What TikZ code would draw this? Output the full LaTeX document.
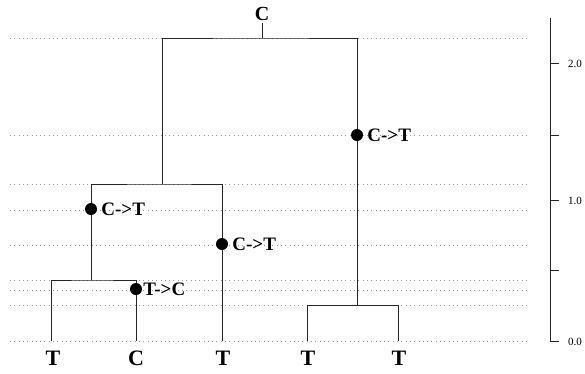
\documentclass[tikz,border=0pt]{standalone}
\usepackage{fontspec}
\setmainfont{Liberation Serif}
\usetikzlibrary{positioning}
\begin{document}
\begin{tikzpicture}[x=1pt, y=-1pt,
    branch/.style={line width=0.9pt, black!85},
    grid/.style={gray!80, line width=0.7pt, dash pattern=on 0.7pt off 3.6pt},
    leaflab/.style={anchor=base, inner sep=0pt, font=\fontsize{22}{22}\selectfont\bfseries},
    mut/.style={circle, fill=black, inner sep=0pt, minimum size=12pt},
    mutlab/.style={anchor=west, inner sep=0pt, font=\fontsize{19}{19}\selectfont\bfseries},
    axlab/.style={anchor=west, inner sep=0pt, font=\fontsize{11}{11}\selectfont}]

        \useasboundingbox (0,0) rectangle (585,373);

        % Dotted guide lines
        \foreach \y in {38,135,184,210,245,280,290,305,341}
            \draw[grid] (10,\y) -- (527,\y);

        % tips and inner nodes
        \coordinate (t1) at (51,341);
        \coordinate (t2) at (136,341);
        \coordinate (t3) at (222,341);
        \coordinate (t4) at (307,341);
        \coordinate (t5) at (398,341);
        \coordinate (n1) at (91,280);
        \coordinate (n2) at (162,184);
        \coordinate (n3) at (357,305);
        \coordinate (root) at (262,38);

        % Tree
        \draw[branch] (t1) |- (n1) -| (t2);
        \draw[branch] (n1) |- (n2) -| (t3);
        \draw[branch] (n2) |- (root) -| (n3);
        \draw[branch] (t4) |- (n3) -| (t5);

        % states
        \node[leaflab] (l1) at (53,365) {T};
        \node[leaflab] (l2) at (136,365) {C};
        \node[leaflab] (l3) at (223,365) {T};
        \node[leaflab] (l4) at (308,365) {T};
        \node[leaflab] (l5) at (399,365) {T};
        \node[anchor=base, inner sep=0pt, font=\fontsize{20}{20}\selectfont\bfseries] (rl) at (262,20) {C};
        \draw[branch] (root) -- (262,23);

        % Mutations
        \node[mut] (m1) at (91,209) {};
        \node[mutlab, right=4pt of m1] (ml1) {C->T};
        \node[mut] (m2) at (222,244) {};
        \node[mutlab, right=4pt of m2] (ml2) {C->T};
        \node[mut] (m3) at (136,289) {};
        \node[mutlab, right=1pt of m3] (ml3) {T->C};
        \node[mut] (m4) at (357,135) {};
        \node[mutlab, right=4pt of m4] (ml4) {C->T};

        % axis
        \draw[branch] (550,18) -- (550,341);
        \foreach \y in {63,135,200,270,341}
            \draw[branch] (550,\y) -- (559,\y);
        \node[axlab] (a0) at (568,342) {0.0};
        \node[axlab] (a1) at (568,201) {1.0};
        \node[axlab] (a2) at (568,64) {2.0};
    \end{tikzpicture}
\end{document}
